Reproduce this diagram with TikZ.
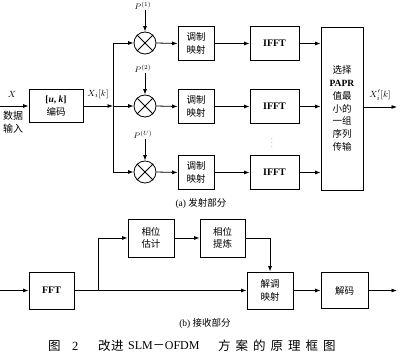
\documentclass[tikz,border=0pt]{standalone}
\usepackage{fontspec}
\setmainfont{Liberation Serif}
\newfontfamily\cjkfont{Noto Sans CJK SC}
\usetikzlibrary{arrows.meta}
\tikzset{
  box/.style={draw,line width=0.8pt,inner sep=0pt,align=center,font=\fontsize{9.5}{12.5}\selectfont},
  mul/.style={draw,line width=0.8pt,circle,minimum size=22pt,inner sep=0pt},
  conn/.style={line width=0.8pt,-{Latex[length=5.5pt,width=4pt]}},
  thinline/.style={line width=0.8pt},
  lbl/.style={inner sep=0pt,font=\fontsize{9.5}{11}\selectfont},
  caplbl/.style={inner sep=0pt,anchor=west,font=\fontsize{12.5}{14}\selectfont}}
\begin{document}
\begin{tikzpicture}[x=1pt,y=-1pt]
\useasboundingbox (0,0) rectangle (400,361);
% ---------- transmitter ----------
\node[box,minimum width=54pt,minimum height=33pt] (enc) at (56,106) {\textbf{[\textit{u}, \textit{k}]}\\{\cjkfont 编码}};
\coordinate (in1) at (0,106);
\node[lbl] (lx) at (12,94) {$X$};
\node[lbl,align=center,font=\fontsize{10}{13}\selectfont] (lin) at (13,122) {{\cjkfont 数据}\\{\cjkfont 输入}};
\draw[conn] (in1) -- (enc.west);
\coordinate (j) at (113,106);
\node[lbl] (lxi) at (98,94) {$X_i[k]$};
\draw[conn] (enc.east) -- (j);
\foreach \i/\y/\s in {1/43/1,2/106/2,3/172/U}{
  \node[mul] (m\i) at (145,\y) {};
  \draw[thinline] (m\i.north east) -- (m\i.south west) (m\i.north west) -- (m\i.south east);
  \node[lbl,font=\fontsize{8.5}{10}\selectfont] (p\i) at (143,\y-37) {$P^{(\s)}$};
  \draw[conn] (p\i.south -| m\i.north) -- (m\i.north);
  \node[box,minimum width=36pt,minimum height=34pt] (md\i) at (196,\y+0.5) {{\cjkfont 调制}\\{\cjkfont 映射}};
  \node[box,minimum width=49pt,minimum height=34pt,font=\fontsize{10}{12}\selectfont\bfseries] (f\i) at (274.5,\y+0.5) {IFFT};
}
\draw[conn] (j) |- (m1.west);
\draw[conn] (j) -- (m2.west);
\draw[conn] (j) |- (m3.west);
\node[box,minimum width=42pt,minimum height=163pt,font=\fontsize{9.5}{12.8}\selectfont] (big) at (342,108.5)
  {{\cjkfont 选择}\\\textbf{PAPR}\\{\cjkfont 值最}\\{\cjkfont 小的}\\{\cjkfont 一组}\\{\cjkfont 序列}\\{\cjkfont 传输}};
\foreach \i in {1,2,3}{
  \draw[conn] (m\i.east) -- (md\i.west);
  \draw[conn] (md\i.east) -- (f\i.west);
  \draw[conn] (f\i.east) -- (f\i.east -| big.west);
}
\node[lbl,font=\tiny] (dots) at (272,140) {$\vdots$};
\coordinate (o1) at (397,107);
\node[lbl] (lxo) at (380,95) {$X'_i[k]$};
\draw[conn] (big.east |- o1) -- (o1);
\node[lbl] (capa) at (201,204) {(a) {\cjkfont 发射部分}};
% ---------- receiver ----------
\node[box,minimum width=45pt,minimum height=37pt,font=\fontsize{10}{12}\selectfont\bfseries] (fft) at (51.5,290.5) {FFT};
\node[box,minimum width=46pt,minimum height=38pt] (pe) at (151,238) {{\cjkfont 相位}\\{\cjkfont 估计}};
\node[box,minimum width=45pt,minimum height=38pt] (pr) at (222.5,238) {{\cjkfont 相位}\\{\cjkfont 提炼}};
\node[box,minimum width=46pt,minimum height=37pt] (dm) at (270,290.5) {{\cjkfont 解调}\\{\cjkfont 映射}};
\node[box,minimum width=47pt,minimum height=36pt] (dec) at (344.5,290.5) {\cjkfont 解码};
\coordinate (in2) at (0,290.5);
\coordinate (b) at (98,290.5);
\coordinate (o2) at (397,290.5);
\draw[conn] (in2) -- (fft.west);
\draw[conn] (fft.east) -- (dm.west);
\draw[conn] (b) |- (pe.west);
\draw[conn] (pe.east) -- (pr.west);
\draw[conn] (pr.east) -| (dm.north);
\draw[conn] (dm.east) -- (dec.west);
\draw[conn] (dec.east) -- (o2);
\node[lbl] (capb) at (205,324) {(b) {\cjkfont 接收部分}};
% ---------- caption ----------
\node[caplbl] (cap1) at (48,346) {\cjkfont 图};
\node[caplbl] (cap2) at (72,346) {2};
\node[caplbl] (cap3) at (98,346) {\cjkfont 改\hspace{0.5pt}进};
\node[caplbl,font=\fontsize{12}{14}\selectfont] (cap4) at (128,346) {SLM{\cjkfont －}OFDM};
\node[caplbl] (cap5) at (218,346) {\cjkfont 方\hspace{5pt}案\hspace{5pt}的\hspace{5pt}原\hspace{5pt}理\hspace{5pt}框\hspace{5pt}图};
\end{tikzpicture}
\end{document}
